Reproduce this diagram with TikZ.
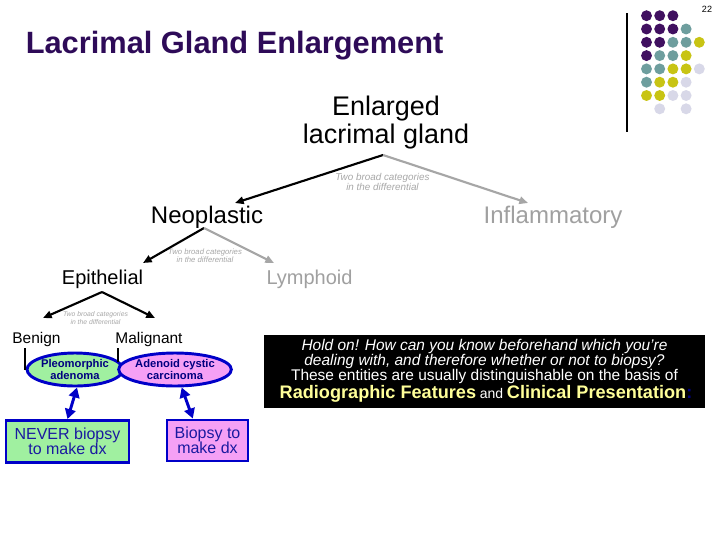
\documentclass[tikz,border=0pt]{standalone}
\usepackage{fontspec}
\setmainfont{Liberation Sans}
\usetikzlibrary{arrows.meta,shapes.geometric}
\definecolor{dotP}{HTML}{401060}
\definecolor{dotT}{HTML}{6E9E9E}
\definecolor{dotY}{HTML}{C8C414}
\definecolor{dotL}{HTML}{D8D8E8}
\definecolor{titlecol}{HTML}{2E0B58}
\definecolor{grayarrow}{HTML}{A6A6A6}
\definecolor{graytext}{HTML}{A0A0A0}
\definecolor{labgray}{HTML}{A8A8A8}
\definecolor{eblue}{HTML}{0000C8}
\definecolor{egreen}{HTML}{A0F0A0}
\definecolor{epink}{HTML}{F5A0F5}
\definecolor{navytext}{HTML}{000080}
\definecolor{boxtext}{HTML}{1A1AA0}
\definecolor{yel}{HTML}{FFFF99}
\begin{document}
\begin{tikzpicture}[x=0.75pt,y=-0.75pt,
  txt/.style={inner sep=0pt,align=center},
  lab/.style={txt,font=\itshape,text=labgray},
  blackarrow/.style={line width=1.6pt,-{Triangle[length=6.5pt,width=5.5pt]}},
  grayarr/.style={line width=1.6pt,draw=grayarrow,-{Triangle[length=6.5pt,width=5.5pt]}},
  bluearrow/.style={line width=2.2pt,draw=eblue,{Triangle[length=7.5pt,width=8pt]}-{Triangle[length=7.5pt,width=8pt]}},
  oval/.style={ellipse,draw=eblue,line width=2.2pt,inner sep=0pt,minimum width=69pt,minimum height=24.75pt,align=center,text=navytext,font=\fontsize{8.4}{9}\selectfont\bfseries},
  dxbox/.style={rectangle,draw=eblue,line width=2.2pt,inner sep=0pt,align=center,text=boxtext,font=\fontsize{12}{11.4}\selectfont},
  dot/.style={circle,inner sep=0pt,minimum size=8.2pt}
]
\useasboundingbox (0,0) rectangle (720,540);
\fill[white] (0,0) rectangle (720,540);

% page number and decoration
\node[txt,font=\fontsize{6.8}{7}\selectfont] (pg) at (707,9.5) {22};
\draw[line width=0.8pt] (627,13) coordinate (vl1) -- (627,132) coordinate (vl2);
\foreach \c/\r/\col in {0/0/dotP,1/0/dotP,2/0/dotP,
  0/1/dotP,1/1/dotP,2/1/dotP,3/1/dotT,
  0/2/dotP,1/2/dotP,2/2/dotT,3/2/dotT,4/2/dotY,
  0/3/dotP,1/3/dotT,2/3/dotT,3/3/dotY,
  0/4/dotT,1/4/dotT,2/4/dotY,3/4/dotY,4/4/dotL,
  0/5/dotT,1/5/dotY,2/5/dotY,3/5/dotL,
  0/6/dotY,1/6/dotY,2/6/dotL,3/6/dotL,
  1/7/dotL,3/7/dotL}
  {\node[dot,fill=\col] (d\c\r) at ({646.5+13.2*\c},{15.7+13.3*\r}) {};}

% title
\node[txt,anchor=west,text=titlecol,font=\fontsize{23.1}{24}\selectfont\bfseries] (title) at (25.5,46) {Lacrimal Gland Enlargement};

% tree
\node[txt,font=\fontsize{20.2}{21}\selectfont] (enl) at (386,123) {Enlarged\\lacrimal gland};
\coordinate (c1) at (383,155);
\node[lab,font=\fontsize{7.4}{7.6}\selectfont\itshape] (lab1) at (382.5,182) {Two broad categories\\in the differential};
\node[txt,font=\fontsize{18}{18}\selectfont] (neo) at (207,217.5) {Neoplastic};
\node[txt,text=graytext,font=\fontsize{18}{18}\selectfont] (inf) at (553,217.5) {Inflammatory};
\coordinate (neoT) at (235,203);
\coordinate (infT) at (528,203);
\draw[blackarrow] (c1) -- (neoT);
\draw[grayarr] (c1) -- (infT);

\coordinate (c2) at (204,228);
\node[lab,font=\fontsize{5.8}{5.8}\selectfont\itshape] (lab2) at (205,256) {Two broad categories\\in the differential};
\node[txt,font=\fontsize{15}{15}\selectfont] (epi) at (102.5,279) {Epithelial};
\node[txt,text=graytext,font=\fontsize{15}{15}\selectfont] (lym) at (309.5,279) {Lymphoid};
\coordinate (epiT) at (143,263);
\coordinate (lymT) at (274,263);
\draw[blackarrow] (c2) -- (epiT);
\draw[grayarr] (c2) -- (lymT);

\coordinate (c3) at (102,292);
\node[lab,font=\fontsize{5.1}{6}\selectfont\itshape] (lab3) at (95.5,318) {Two broad categories\\in the differential};
\node[txt,font=\fontsize{11.6}{12}\selectfont] (ben) at (36.5,339) {Benign};
\node[txt,font=\fontsize{11.6}{12}\selectfont] (mal) at (149,339) {Malignant};
\coordinate (benT) at (43,318);
\coordinate (malT) at (155,318);
\draw[blackarrow] (c3) -- (benT);
\draw[blackarrow] (c3) -- (malT);

% ovals
\node[oval,fill=egreen] (pleo) at (75,369.5) {Pleomorphic\\adenoma};
\node[oval,fill=epink,minimum width=81pt] (acc) at (175,369.5) {Adenoid cystic\\carcinoma};
% brackets
\coordinate (bk1) at (25,348);
\coordinate (bk2) at (118,348);
\draw[line width=0.8pt] (bk1) |- (pleo.west);
\draw[line width=0.8pt] (bk2) |- ([yshift=6pt]acc.west);

% boxes
\node[dxbox,fill=egreen,minimum width=92.25pt,minimum height=31.5pt] (nb) at (67.5,441.5) {NEVER biopsy\\to make dx};
\node[dxbox,fill=epink,minimum width=60.75pt,minimum height=30.75pt] (bb2) at (207.5,440.5) {Biopsy to\\make dx};
\draw[bluearrow] ([xshift=1.5pt]pleo.south) -- ([xshift=0pt]nb.north);
\draw[bluearrow] ([xshift=5pt]acc.south) -- ([xshift=-11pt]bb2.north);

% black box
\node[fill=black,inner sep=0pt,minimum width=330.75pt,minimum height=54.75pt] (bk) at (484.5,371.5) {};
\node[txt,anchor=base,text=white,font=\fontsize{11.6}{12}\selectfont\itshape] (t1) at (484.5,350.5) {Hold on! How can you know beforehand which you're};
\node[txt,anchor=base,text=white,font=\fontsize{11.6}{12}\selectfont\itshape] (t2) at (484.5,365.5) {dealing with, and therefore whether or not to biopsy?};
\node[txt,anchor=base,text=white,font=\fontsize{11.6}{12}\selectfont] (t3) at (484.5,380.5) {These entities are usually distinguishable on the basis of};
\node[txt,anchor=base] (t4) at (486,398) {{\color{yel}\fontsize{13.6}{14}\selectfont\bfseries Radiographic Features} {\color{white}\fontsize{10.5}{12}\selectfont and} {\color{yel}\fontsize{13.6}{14}\selectfont\bfseries Clinical Presentation}{\color{navytext}\fontsize{13.6}{14}\selectfont\bfseries :}};
\end{tikzpicture}
\end{document}
